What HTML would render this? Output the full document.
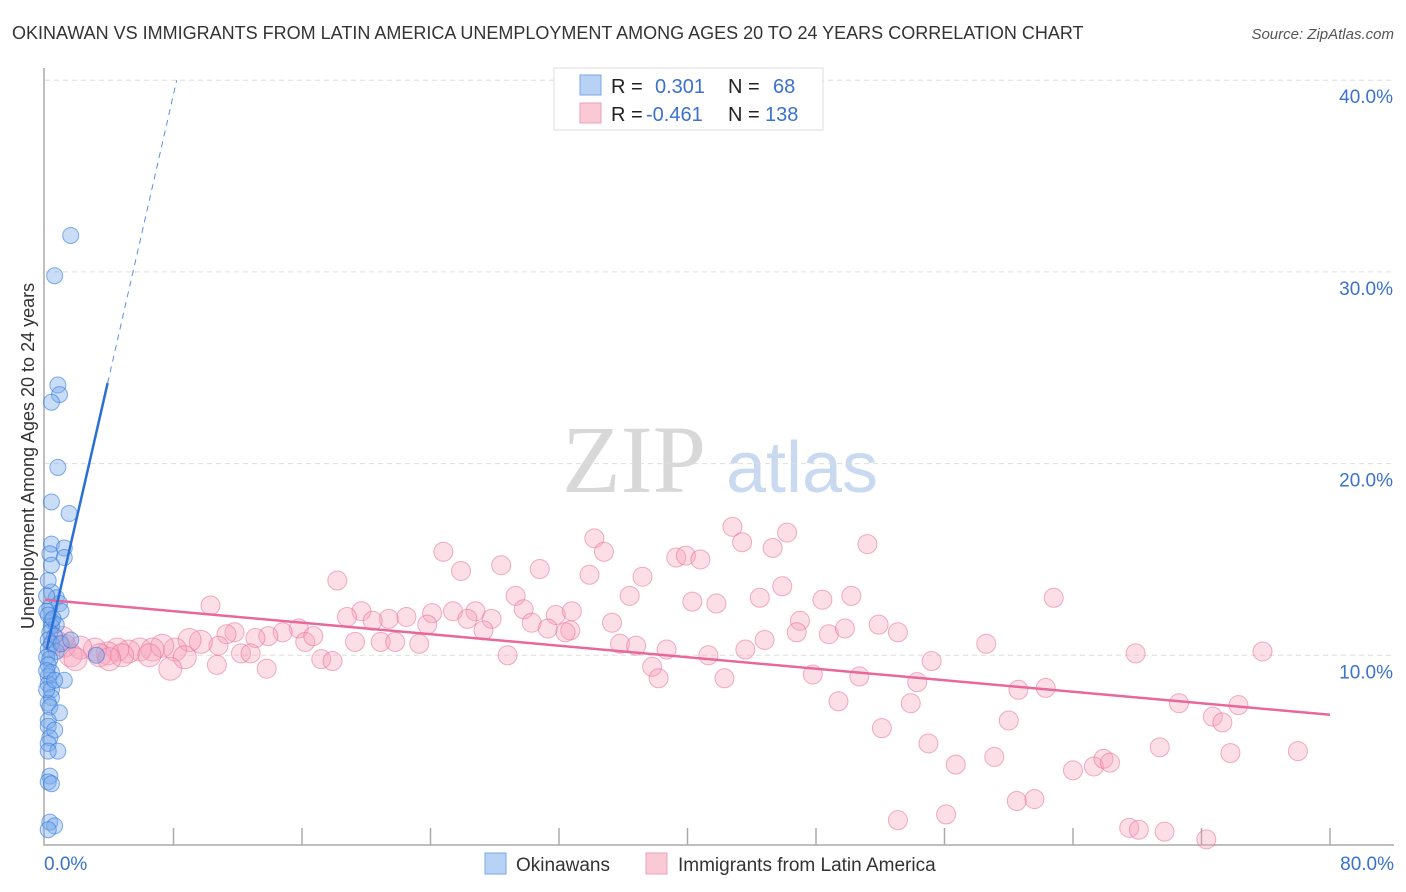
<!DOCTYPE html>
<html><head><meta charset="utf-8"><style>
body{margin:0;background:#fff;font-family:"Liberation Sans",sans-serif}
svg{display:block}
</style></head><body>
<svg id="c" width="1406" height="892" xmlns="http://www.w3.org/2000/svg">
<text x="12" y="39" font-size="18" fill="#333">OKINAWAN VS IMMIGRANTS FROM LATIN AMERICA UNEMPLOYMENT AMONG AGES 20 TO 24 YEARS CORRELATION CHART</text>
<text x="1394" y="39" font-size="15" fill="#555" font-style="italic" text-anchor="end">Source: ZipAtlas.com</text>
<text x="634" y="492" font-size="96" fill="#d8d8d8" font-family="Liberation Serif,serif" text-anchor="middle">ZIP</text>
<text x="802" y="492" font-size="72" fill="#c9d9f0" text-anchor="middle">atlas</text>
<text transform="translate(34,456) rotate(-90)" font-size="18" fill="#333" text-anchor="middle">Unemployment Among Ages 20 to 24 years</text>
<g id="grid"></g><g id="axes"></g><g id="pts"></g><g id="lines"></g>
<g>
<rect x="554" y="68" width="269" height="62" fill="#fff" stroke="#ddd"/>
<rect x="580" y="75" width="21" height="20" fill="#b7d2f5" stroke="#7aa8e8"/>
<rect x="580" y="103" width="21" height="20" fill="#f9c9d6" stroke="#f0a0b8"/>
<text x="611" y="93" font-size="20" fill="#222">R = </text><text x="655" y="93" font-size="20" fill="#3a72cc">0.301</text>
<text x="728" y="93" font-size="20" fill="#222">N = </text><text x="773" y="93" font-size="20" fill="#3a72cc">68</text>
<text x="611" y="121" font-size="20" fill="#222">R = </text><text x="646" y="121" font-size="20" fill="#3a72cc">-0.461</text>
<text x="728" y="121" font-size="20" fill="#222">N = </text><text x="765" y="121" font-size="20" fill="#3a72cc">138</text>
</g>
<g>
<rect x="485" y="853" width="21" height="21" fill="#b7d2f5" stroke="#7aa8e8"/>
<text x="516" y="871" font-size="19" fill="#333">Okinawans</text>
<rect x="646" y="853" width="21" height="21" fill="#f9c9d6" stroke="#f0a0b8"/>
<text x="678" y="871" font-size="19" fill="#333">Immigrants from Latin America</text>
</g>
</svg>
<script>
const xTickLabels=["0.0%","80.0%"];
const yTicks=[10,20,30,40];
const yTickLabels=["10.0%","20.0%","30.0%","40.0%"];
const pinkX=[18.2,24.8,25.9,28.4,30.8,34.2,34.8,33.9,37.2,39.3,39.9,40.8,42.8,43.4,45.3,46.2,51.2,45.9,44.5,40.3,41.8,36.4,29.3,29.8,30.3,31.8,32.8,35.3,32.7,31.3,32.4,26.8,25.4,26.3,27.8,27.3,24.1,23.8,22.5,21.4,19.7,18.8,20.4,15.8,14.8,13.9,13.1,11.8,11.3,10.3,10.8,9.7,9.0,8.1,7.3,6.7,5.9,5.2,4.5,3.9,3.1,2.2,1.2,0.7,1.6,3.4,4.8,6.5,8.7,12.2,12.8,16.2,16.7,17.2,17.9,19.3,20.9,21.8,23.3,28.8,35.8,36.8,38.7,41.3,43.6,44.8,47.0,46.8,48.8,49.8,51.9,53.1,50.2,48.4,47.8,50.7,54.3,55.2,58.6,62.8,67.9,75.8,60.6,62.3,70.6,72.7,73.3,74.3,60.0,53.9,52.1,49.4,55.0,56.7,59.1,64.0,65.3,65.9,66.3,69.4,73.8,78.0,60.5,61.6,56.1,53.1,67.5,68.1,69.7,72.3,7.8,10.7,13.8,37.8,38.2,42.3,1.1,1.9,4.0];
const pinkY=[13.9,15.4,14.4,14.7,14.5,16.1,15.4,14.2,14.1,15.1,15.2,15.0,16.7,15.9,15.6,16.4,15.8,13.6,13.0,12.8,12.7,13.1,13.1,12.4,11.7,12.1,12.3,11.7,11.3,11.4,11.2,12.3,12.3,11.9,11.9,11.3,12.2,11.6,12.0,11.9,12.3,12.0,11.8,11.4,11.2,11.0,10.9,11.2,11.1,12.6,10.5,10.7,10.8,10.3,10.5,10.3,10.3,10.2,10.3,10.1,10.3,10.4,10.5,10.7,10.0,10.0,10.0,10.0,9.9,10.1,10.1,10.7,11.0,9.8,9.7,10.7,10.7,10.7,10.6,10.0,10.6,10.5,10.3,10.0,10.3,10.8,11.8,11.2,11.1,11.4,11.6,11.2,13.1,12.9,9.0,8.9,8.6,9.7,10.6,13.0,10.1,10.2,8.2,8.3,7.5,6.8,6.5,7.4,6.6,7.5,6.2,7.6,5.4,4.3,4.7,4.0,4.2,4.6,4.4,5.2,4.9,5.0,2.4,2.5,1.7,1.4,1.0,0.9,0.8,0.4,9.3,9.5,9.3,9.4,8.8,8.8,10.9,9.8,9.8];
const blueX=[1.6,0.6,0.8,0.9,0.4,0.8,0.4,1.5,0.4,1.2,0.3,1.2,0.4,0.4,0.7,0.9,0.3,1.0,0.4,0.7,0.4,0.3,0.6,0.2,0.4,0.2,0.7,0.1,0.3,0.2,0.4,0.2,0.2,1.2,0.4,0.4,0.2,0.3,0.9,0.2,0.2,0.6,0.3,0.2,0.8,0.2,0.3,0.2,0.4,0.3,0.6,0.2,3.2,0.1,0.2,0.5,0.1,0.2,0.1,0.1,1.0,0.6,1.6];
const blueY=[31.9,29.8,24.1,23.6,23.2,19.8,18.0,17.4,15.8,15.6,15.3,15.1,14.7,13.3,13.0,12.7,12.5,12.3,11.8,11.6,11.5,11.2,11.0,10.8,10.6,10.3,10.2,9.9,9.8,9.5,9.1,8.9,8.5,8.7,8.2,7.8,7.5,7.3,7.0,6.6,6.3,6.1,5.7,5.4,5.0,5.0,3.7,3.4,3.3,1.3,1.1,0.9,10.0,12.3,12.1,11.9,13.1,13.9,9.2,8.2,10.6,8.7,10.8];
const pinkTrend=[[0,12.9],[80,6.9]];
const blueTrend=[[0.1,10.3],[3.9,24.2]];
const blueTrendDash=[[3.9,24.2],[8.2,40]];
const NS='http://www.w3.org/2000/svg';
const X=v=>45+v/80*1285, Y=v=>847-v*19.17;
function mk(t,a,p){const e=document.createElementNS(NS,t);for(const k in a)e.setAttribute(k,a[k]);p.appendChild(e);return e;}
const grid=document.getElementById('grid'),axes=document.getElementById('axes'),pts=document.getElementById('pts'),lines=document.getElementById('lines');
yTicks.forEach((t,i)=>{
 const l=mk('line',{x1:45,x2:1394,y1:Y(t),y2:Y(t),stroke:'#ddd','stroke-dasharray':'5,4'},grid);
 
 
 const tx=mk('text',{x:1393,y:Y(t)+23,'font-size':19,fill:'#3a72cc','text-anchor':'end'},grid);tx.textContent=yTickLabels[i];
 
 
});
const ax=mk('path',{d:'M44 68 V845 H1394',fill:'none',stroke:'#aaa','stroke-width':1.5},axes);


for(let i=1;i<=10;i++){const tk=mk('line',{x1:X(i*8),x2:X(i*8),y1:828,y2:845,stroke:'#aaa','stroke-width':1.5},axes);
 
 }
[[0,'start',44],[80,'end',1394]].forEach((d,i)=>{const t=mk('text',{x:d[2],y:870,'font-size':19,fill:'#3a72cc','text-anchor':d[1]},axes);t.textContent=xTickLabels[i];
 
 });
pinkX.forEach((x,i)=>{const r=x<10?11.5:9.5;const c=mk('circle',{cx:X(x),cy:Y(pinkY[i]),r:r,fill:'rgba(245,160,185,0.35)',stroke:'rgba(232,110,150,0.55)'},pts);
 
 });
blueX.forEach((x,i)=>{const c=mk('circle',{cx:X(x),cy:Y(blueY[i]),r:8,fill:'rgba(120,170,235,0.4)',stroke:'rgba(50,120,220,0.6)'},pts);
 
 });
let l1=mk('line',{x1:X(pinkTrend[0][0]),y1:Y(pinkTrend[0][1]),x2:X(pinkTrend[1][0]),y2:Y(pinkTrend[1][1]),stroke:'#e8689a','stroke-width':2.5},lines);


let l2=mk('line',{x1:X(blueTrend[0][0]),y1:Y(blueTrend[0][1]),x2:X(blueTrend[1][0]),y2:Y(blueTrend[1][1]),stroke:'#2a6fd6','stroke-width':2.5},lines);


let l3=mk('line',{x1:X(blueTrendDash[0][0]),y1:Y(blueTrendDash[0][1]),x2:X(blueTrendDash[1][0]),y2:Y(blueTrendDash[1][1]),stroke:'#5a90e0','stroke-width':1,'stroke-dasharray':'6,5'},lines);


</script>
</body></html>
